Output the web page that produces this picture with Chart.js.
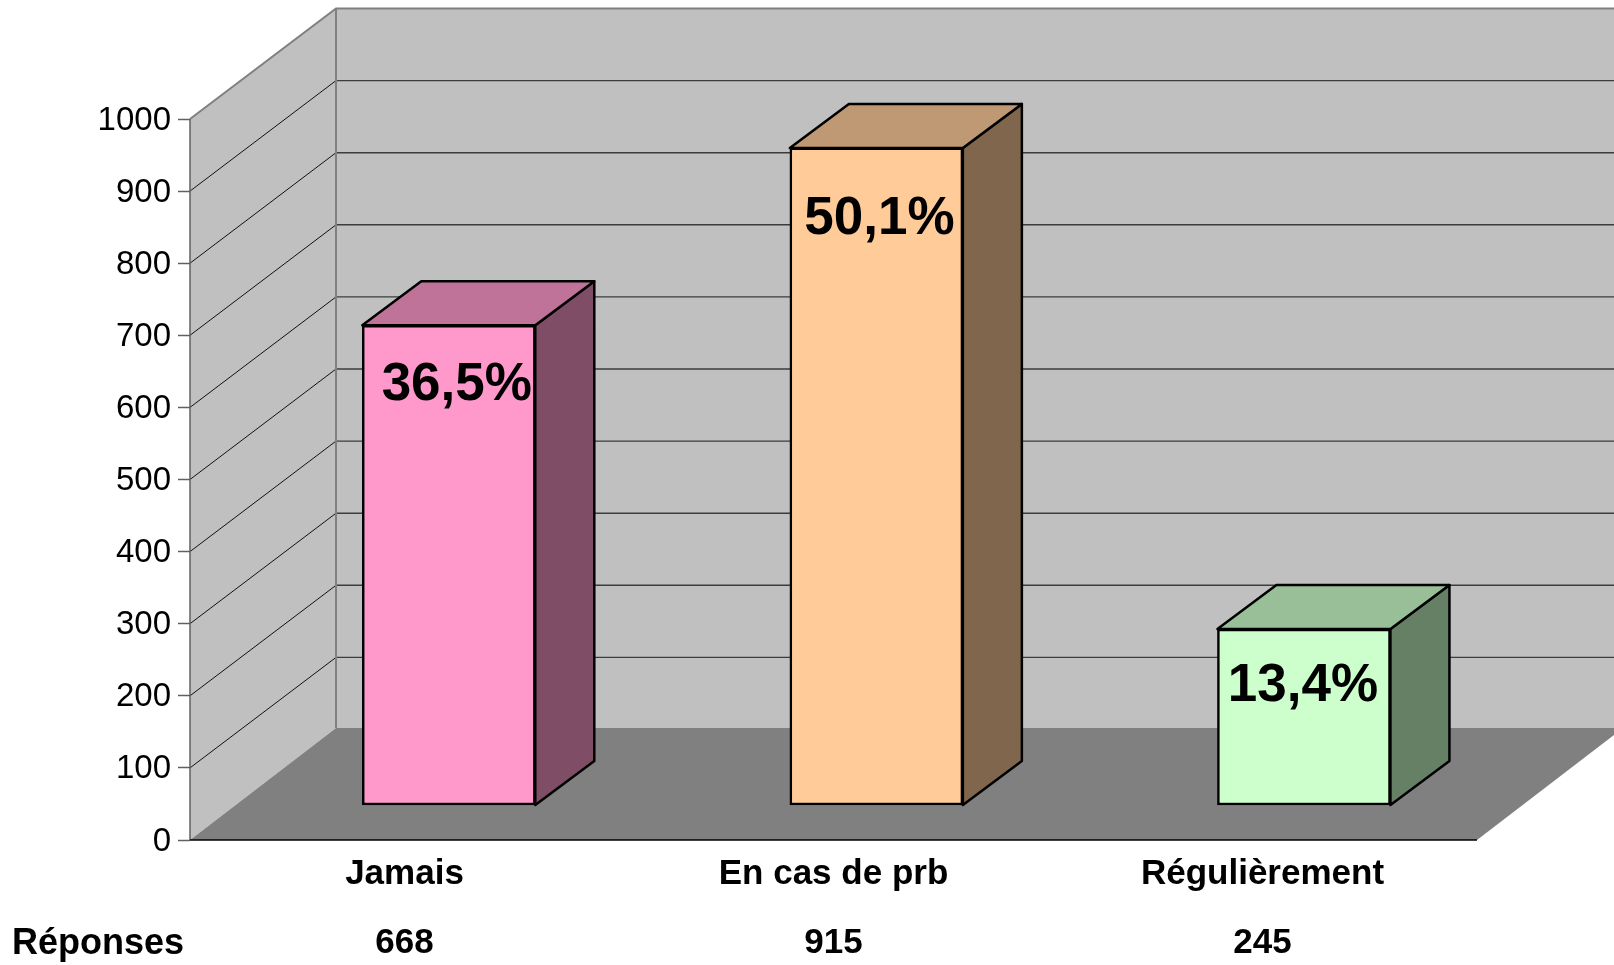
<!DOCTYPE html>
<html>
<head>
<meta charset="utf-8">
<style>
  html, body { margin: 0; padding: 0; background: #fff; }
  canvas { display: block; }
</style>
<script src="https://cdn.jsdelivr.net/npm/chart.js@4/dist/chart.umd.min.js"></script>
</head>
<body>
<canvas id="canvas" width="1614" height="965"></canvas>
<script>
const categories = ['Jamais', 'En cas de prb', 'Régulièrement'];
const reponses = [668, 915, 245];
const pourcentages = ['36,5%', '50,1%', '13,4%'];
const rowTitle = 'Réponses';

const frontColors = ['#FF99CC', '#FFCC99', '#CCFFCC'];
const topColors = ['#BF7399', '#BF9973', '#99BF99'];
const sideColors = ['#804D66', '#80664D', '#668066'];

// oblique offsets of the box
const WALL_DX = 146;
const WALL_DY = 110.5;
const FLOOR_DY = 112;
const BAR_DX = 59;
const BAR_DY = 44;
// bars stand in the middle of the floor, not on its front edge
const SHIFT_X = 45;
const SHIFT_Y = -35;
// hand placed percentage text, relative to bar center and bar top
const pctNudge = [[8, 75], [3, 86], [-1, 72]];

const poly = (ctx, pts, fill, stroke, lw) => {
  ctx.beginPath();
  pts.forEach((p, i) => (i ? ctx.lineTo(p[0], p[1]) : ctx.moveTo(p[0], p[1])));
  ctx.closePath();
  if (fill) {
    ctx.fillStyle = fill;
    ctx.fill();
  }
  if (stroke) {
    ctx.strokeStyle = stroke;
    ctx.lineWidth = lw;
    ctx.lineJoin = 'round';
    ctx.stroke();
  }
};

const line = (ctx, pts, color, lw) => {
  ctx.beginPath();
  pts.forEach((p, i) => (i ? ctx.lineTo(p[0], p[1]) : ctx.moveTo(p[0], p[1])));
  ctx.strokeStyle = color;
  ctx.lineWidth = lw;
  ctx.stroke();
};

const box3d = {
  id: 'box3d',
  // walls, floor and grid
  beforeDatasetsDraw(chart) {
    const { ctx, chartArea: a, scales } = chart;
    const y = scales.y;
    const top = y.getPixelForValue(1000);
    const bot = y.getPixelForValue(0);
    const backL = a.left + WALL_DX;
    const backR = a.right + WALL_DX;

    ctx.save();
    poly(ctx, [[backL, top - WALL_DY], [backR, top - WALL_DY], [backR, bot - FLOOR_DY], [backL, bot - FLOOR_DY]], '#C0C0C0');
    poly(ctx, [[a.left, top], [backL, top - WALL_DY], [backL, bot - FLOOR_DY], [a.left, bot]], '#C0C0C0');
    poly(ctx, [[a.left, bot], [backL, bot - FLOOR_DY], [backR, bot - FLOOR_DY], [a.right, bot]], '#808080');

    y.ticks.forEach((t) => {
      if (t.value === 0 || t.value === 1000) return;
      const py = y.getPixelForValue(t.value);
      line(ctx, [[a.left, py], [backL, py - WALL_DY]], '#111', 1);
      line(ctx, [[backL, py - WALL_DY], [backR, py - WALL_DY]], '#3c3c3c', 1.4);
    });

    line(ctx, [[a.left, top], [backL, top - WALL_DY], [backR, top - WALL_DY]], '#808080', 2);
    line(ctx, [[backL, top - WALL_DY], [backL, bot - FLOOR_DY]], '#808080', 2);
    line(ctx, [[a.left, top], [a.left, bot]], '#606060', 1.5);
    line(ctx, [[a.left, bot], [a.right, bot]], '#000', 1.5);
    ctx.restore();
  },
  // side and top of each bar go under the front face, which is the real bar moved back
  beforeDatasetDraw(chart, args) {
    const { ctx } = chart;
    const meta = args.meta;
    ctx.save();
    ctx.save();
    meta.data.forEach((bar, i) => {
      const p = bar.getProps(['x', 'y', 'base', 'width'], true);
      const l = p.x - p.width / 2 + SHIFT_X;
      const r = p.x + p.width / 2 + SHIFT_X;
      const t = p.y + SHIFT_Y;
      const b = p.base + SHIFT_Y;
      poly(ctx, [[r, t], [r + BAR_DX, t - BAR_DY], [r + BAR_DX, b - BAR_DY], [r, b]], sideColors[i], '#000', 2.5);
      poly(ctx, [[l, t], [l + BAR_DX, t - BAR_DY], [r + BAR_DX, t - BAR_DY], [r, t]], topColors[i], '#000', 2.5);
    });
    ctx.restore();
    ctx.translate(SHIFT_X, SHIFT_Y);
  },
  afterDatasetDraw(chart) {
    chart.ctx.restore();
  },
  afterDatasetsDraw(chart) {
    const { ctx, scales } = chart;
    const meta = chart.getDatasetMeta(0);
    ctx.save();
    ctx.fillStyle = '#000';
    ctx.textAlign = 'center';
    ctx.textBaseline = 'alphabetic';
    ctx.font = 'bold 53px "Liberation Sans", Arial, sans-serif';
    meta.data.forEach((bar, i) => {
      const p = bar.getProps(['x', 'y'], true);
      ctx.fillText(pourcentages[i], p.x + SHIFT_X + pctNudge[i][0], p.y + SHIFT_Y + pctNudge[i][1]);
    });
    ctx.font = 'bold 36px "Liberation Sans", Arial, sans-serif';
    ctx.textAlign = 'left';
    ctx.fillText(rowTitle, 12, scales.x.bottom - 11);
    ctx.restore();
  },
};

const ctx = document.getElementById('canvas').getContext('2d');
new Chart(ctx, {
  type: 'bar',
  plugins: [box3d],
  data: {
    labels: categories.map((c, i) => [c, String(reponses[i])]),
    datasets: [
      {
        label: rowTitle,
        data: reponses.map((v, i) => ({ x: i, y: v })),
        xAxisID: 'xBars',
        yAxisID: 'yBars',
        backgroundColor: frontColors,
        borderColor: '#000',
        borderWidth: 2.5,
        borderSkipped: false,
        barThickness: 173,
        clip: false,
      },
    ],
  },
  options: {
    responsive: false,
    animation: false,
    layout: { padding: { top: 119, right: 137, left: 0, bottom: 0 } },
    plugins: { legend: { display: false }, title: { display: false }, tooltip: { enabled: false } },
    scales: {
      x: {
        afterFit: (scale) => { scale.height = 125; },
        grid: { display: false },
        border: { display: false },
        ticks: {
          color: '#000',
          padding: -7.5,
          maxRotation: 0,
          autoSkip: false,
          font: { family: '"Liberation Sans", Arial, sans-serif', size: 35, weight: 'bold', lineHeight: 1.95 },
        },
      },
      y: {
        min: 0,
        max: 1000,
        afterFit: (scale) => { scale.width = 190; },
        border: { display: false },
        grid: { drawOnChartArea: false, tickLength: 12, tickColor: '#606060', tickWidth: 1.5 },
        ticks: {
          stepSize: 100,
          color: '#000',
          padding: 7,
          labelOffset: 1.5,
          callback: (v) => String(v),
          font: { family: '"Liberation Sans", Arial, sans-serif', size: 33 },
        },
      },
      // bars sit a little behind the front plane, so their units are slightly smaller
      xBars: { type: 'linear', display: false, offset: false, min: -0.5, max: 2.51 },
      yBars: { display: false, min: 0, max: 1004 },
    },
  },
});
</script>
</body>
</html>
